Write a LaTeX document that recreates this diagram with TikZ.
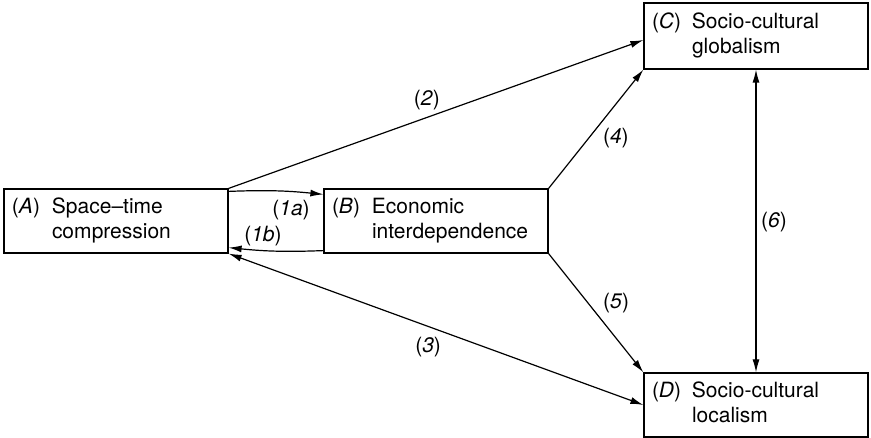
\documentclass[tikz,border=0pt]{standalone}
\usepackage{fontspec}
\setmainfont{TeX Gyre Heros}
\usetikzlibrary{arrows.meta,calc}
\begin{document}
\begin{tikzpicture}[x=1pt,y=-1pt,
  txt/.style={font=\fontsize{21}{25}\selectfont},
  box/.style={draw,line width=1.2pt,txt,minimum width=224pt,inner xsep=8pt,inner ysep=0pt,text width=208pt,align=left},
  conn/.style={line width=1.2pt,-{Latex[length=13pt,width=7pt]}},
  dconn/.style={line width=1.2pt,{Latex[length=13pt,width=7pt]}-{Latex[length=13pt,width=7pt]}},
  lbl/.style={txt,inner sep=0pt}]
\useasboundingbox[fill=white] (0,0) rectangle (871,438);
\newcommand{\boxtext}[3]{\begin{tabular}{@{}p{40pt}@{}l@{}}(\textit{#1}) & #2\\ & #3\end{tabular}}
\node[box,minimum height=64pt] (A) at (116,221) {\boxtext{A}{Space–time}{compression}};
\node[box,minimum height=64pt] (B) at (436,221) {\boxtext{B}{Economic}{interdependence}};
\node[box,minimum height=66pt] (C) at (756,36) {\boxtext{C}{Socio-cultural}{globalism}};
\node[box,minimum height=64pt] (D) at (756,405) {\boxtext{D}{Socio-cultural}{localism}};
% (2)
\draw[conn] (A.north east) -- node[lbl,pos=0.478,yshift=17pt] (l2) {(\textit{2})} ($(C.west)+(0,4)$);
% (1a)
\draw[conn] ($(A.north east)+(0,3)$) to[bend left=4] node[lbl,xshift=15pt,yshift=-19pt] (l1a) {(\textit{1a})} ($(B.north west)+(0,6)$);
% (1b)
\draw[conn] ($(B.south west)+(0,-3)$) to[bend left=4] node[lbl,xshift=-13pt,yshift=15pt] (l1b) {(\textit{1b})} ($(A.south east)+(0,-6)$);
% (3)
\draw[dconn] (A.south east) -- node[lbl,pos=0.481,yshift=-21pt] (l3) {(\textit{3})} (D.west);
% (4)
\draw[conn] (B.north east) -- node[lbl,pos=0.425,xshift=27pt] (l4) {(\textit{4})} (C.south west);
% (5)
\draw[conn] (B.south east) -- node[lbl,pos=0.417,xshift=28pt] (l5) {(\textit{5})} (D.north west);
% (6)
\draw[dconn] (C.south) -- node[lbl,pos=0.503,xshift=18pt] (l6) {(\textit{6})} (D.north);
\end{tikzpicture}
\end{document}
